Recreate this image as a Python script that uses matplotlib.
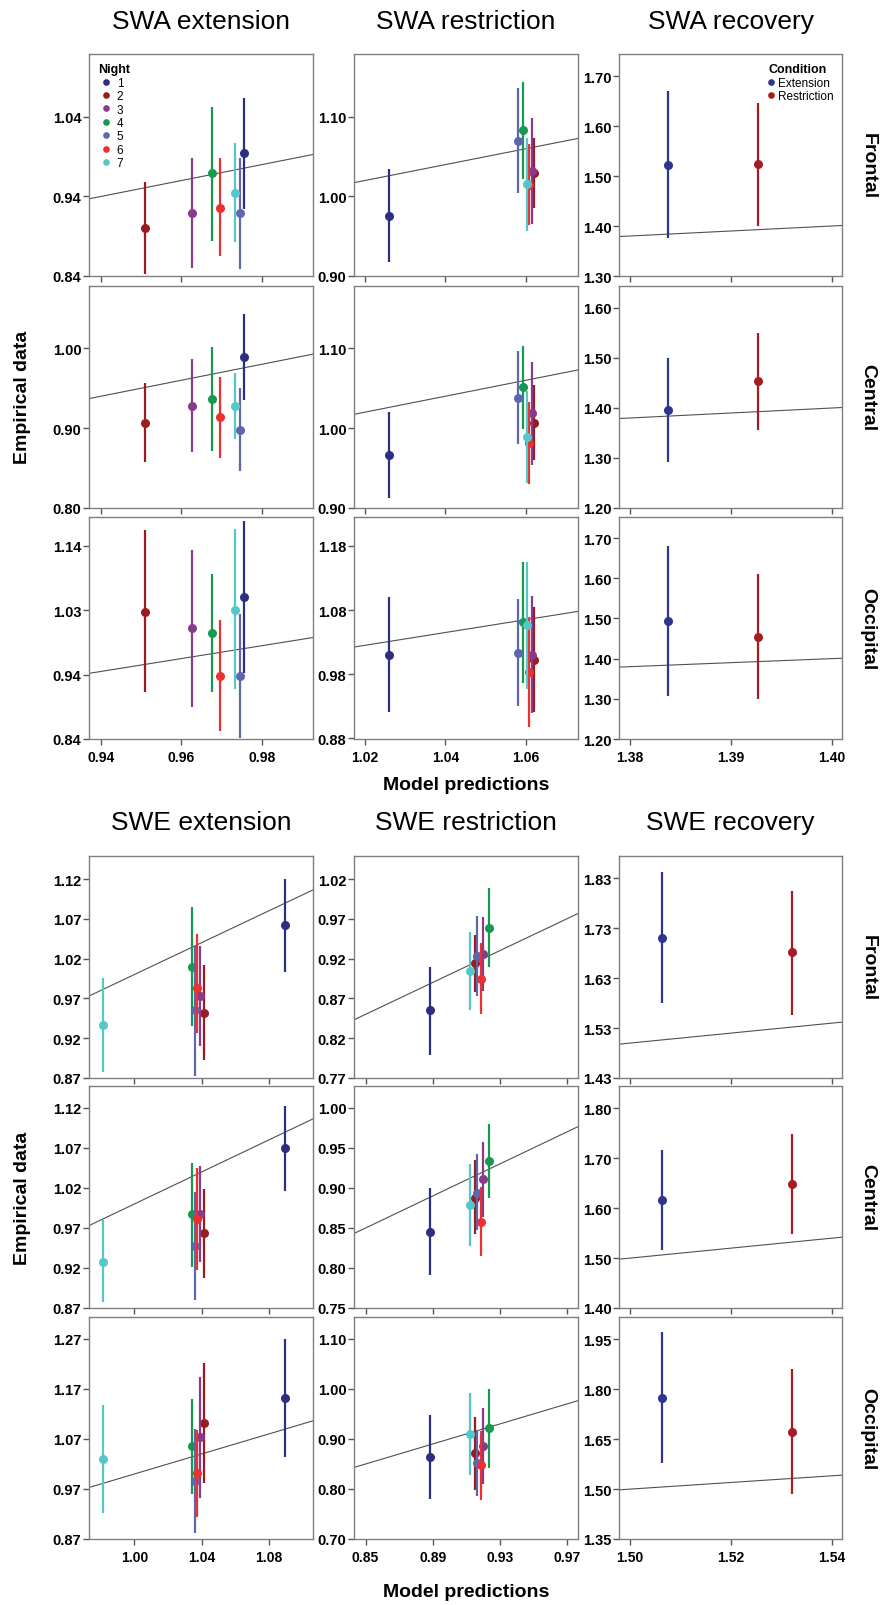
import matplotlib
matplotlib.use("Agg")
import matplotlib.pyplot as plt
from matplotlib.lines import Line2D

plt.rcParams['font.family'] = ['Liberation Sans', 'DejaVu Sans']

# ---------------- data ----------------
night_labels = ['1', '2', '3', '4', '5', '6', '7']
night_colors = ['#2b2f7f', '#9a1b20', '#8a3a8c', '#17994f', '#5f66b0', '#ee2f2f', '#56c7c8']
cond_labels = ['Extension', 'Restriction']
cond_colors = ['#2d3590', '#a61c22']

# model predictions (x), nights 1..7 / conditions
swa_ext_pred = [0.9756, 0.9510, 0.9626, 0.9675, 0.9745, 0.9696, 0.9733]
swa_res_pred = [1.0260, 1.0621, 1.0616, 1.0592, 1.0581, 1.0607, 1.0603]
swa_rec_pred = [1.3838, 1.3927]
swe_ext_pred = [1.0895, 1.0414, 1.0393, 1.0343, 1.0362, 1.0376, 0.9812]
swe_res_pred = [0.8883, 0.9152, 0.9203, 0.9234, 0.9167, 0.9188, 0.9121]
swe_rec_pred = [1.5063, 1.5320]

# empirical data: mean, lower CI, upper CI
swa_ext_frontal = ([0.994, 0.900, 0.919, 0.969, 0.919, 0.926, 0.944],
                   [0.924, 0.842, 0.850, 0.884, 0.849, 0.865, 0.883],
                   [1.064, 0.958, 0.988, 1.053, 0.988, 0.988, 1.007])
swa_ext_central = ([0.989, 0.907, 0.928, 0.937, 0.898, 0.914, 0.928],
                   [0.935, 0.857, 0.870, 0.871, 0.846, 0.863, 0.887],
                   [1.043, 0.956, 0.986, 1.002, 0.950, 0.964, 0.969])
swa_ext_occipital = ([1.056, 1.033, 1.007, 0.999, 0.933, 0.933, 1.036],
                     [0.938, 0.908, 0.884, 0.908, 0.837, 0.847, 0.913],
                     [1.174, 1.160, 1.129, 1.091, 1.029, 1.020, 1.161])

swa_res_frontal = ([0.976, 1.030, 1.032, 1.083, 1.070, 1.014, 1.015],
                   [0.917, 0.985, 0.965, 1.022, 1.004, 0.964, 0.957],
                   [1.034, 1.074, 1.098, 1.144, 1.136, 1.066, 1.073])
swa_res_central = ([0.966, 1.007, 1.019, 1.051, 1.038, 0.982, 0.989],
                   [0.912, 0.960, 0.954, 0.999, 0.980, 0.930, 0.931],
                   [1.020, 1.054, 1.083, 1.103, 1.096, 1.033, 1.047])
swa_res_occipital = ([1.005, 0.997, 1.005, 1.056, 1.008, 0.978, 1.052],
                     [0.916, 0.916, 0.915, 0.961, 0.925, 0.893, 0.952],
                     [1.096, 1.079, 1.097, 1.150, 1.092, 1.064, 1.150])

swa_rec_frontal = ([1.523, 1.524], [1.376, 1.401], [1.670, 1.647])
swa_rec_central = ([1.397, 1.454], [1.293, 1.357], [1.500, 1.551])
swa_rec_occipital = ([1.493, 1.455], [1.306, 1.299], [1.681, 1.611])

swe_ext_frontal = ([1.062, 0.952, 0.973, 1.010, 0.955, 0.983, 0.937],
                   [1.003, 0.893, 0.910, 0.935, 0.872, 0.927, 0.877],
                   [1.120, 1.012, 1.036, 1.085, 1.036, 1.051, 0.996])
swe_ext_central = ([1.070, 0.964, 0.988, 0.987, 0.947, 0.981, 0.928],
                   [1.016, 0.908, 0.927, 0.921, 0.880, 0.917, 0.877],
                   [1.123, 1.019, 1.048, 1.051, 1.015, 1.045, 0.980])
swe_ext_occipital = ([1.152, 1.103, 1.075, 1.057, 0.986, 1.002, 1.030],
                     [1.035, 0.983, 0.953, 0.961, 0.883, 0.915, 0.923],
                     [1.270, 1.223, 1.195, 1.151, 1.090, 1.089, 1.138])

swe_res_frontal = ([0.855, 0.914, 0.926, 0.959, 0.923, 0.895, 0.905],
                   [0.799, 0.878, 0.879, 0.910, 0.873, 0.850, 0.855],
                   [0.909, 0.950, 0.972, 1.009, 0.973, 0.940, 0.953])
swe_res_central = ([0.845, 0.888, 0.911, 0.934, 0.894, 0.858, 0.879],
                   [0.791, 0.842, 0.864, 0.887, 0.847, 0.815, 0.828],
                   [0.900, 0.935, 0.958, 0.980, 0.942, 0.901, 0.930])
swe_res_occipital = ([0.864, 0.872, 0.887, 0.923, 0.853, 0.848, 0.911],
                     [0.780, 0.798, 0.810, 0.843, 0.787, 0.779, 0.829],
                     [0.949, 0.945, 0.962, 1.001, 0.919, 0.917, 0.993])

swe_rec_frontal = ([1.710, 1.682], [1.580, 1.557], [1.842, 1.804])
swe_rec_central = ([1.616, 1.649], [1.517, 1.548], [1.716, 1.749])
swe_rec_occipital = ([1.775, 1.673], [1.579, 1.486], [1.972, 1.860])

# axis ticks
swa_xticks = [[0.94, 0.96, 0.98], [1.02, 1.04, 1.06], [1.38, 1.39, 1.40]]
swe_xticks = [[1.00, 1.04, 1.08], [0.85, 0.89, 0.93, 0.97], [1.50, 1.52, 1.54]]
swa_xlims = [(0.937, 0.9927), (1.0173, 1.0729), (1.3789, 1.4010)]
swe_xlims = [(0.9730, 1.1064), (0.8431, 0.9767), (1.4978, 1.5420)]

swa_yticks = [[[0.84, 0.94, 1.04], [0.90, 1.00, 1.10], [1.30, 1.40, 1.50, 1.60, 1.70]],
              [[0.80, 0.90, 1.00], [0.90, 1.00, 1.10], [1.20, 1.30, 1.40, 1.50, 1.60]],
              [[0.835, 0.935, 1.035, 1.135], [0.875, 0.975, 1.075, 1.175],
               [1.20, 1.30, 1.40, 1.50, 1.60, 1.70]]]
swa_ylabels_occ = [['0.84', '0.94', '1.03', '1.14'], ['0.88', '0.98', '1.08', '1.18']]
swa_ylims = [[(0.84, 1.119), (0.90, 1.179), (1.30, 1.744)],
             [(0.80, 1.078), (0.90, 1.178), (1.20, 1.644)],
             [(0.835, 1.180), (0.874, 1.220), (1.20, 1.7525)]]

swe_yticks = [[[0.87, 0.92, 0.97, 1.02, 1.07, 1.12], [0.77, 0.82, 0.87, 0.92, 0.97, 1.02],
               [1.43, 1.53, 1.63, 1.73, 1.83]],
              [[0.87, 0.92, 0.97, 1.02, 1.07, 1.12], [0.75, 0.80, 0.85, 0.90, 0.95, 1.00],
               [1.40, 1.50, 1.60, 1.70, 1.80]],
              [[0.87, 0.97, 1.07, 1.17, 1.27], [0.70, 0.80, 0.90, 1.00, 1.10],
               [1.35, 1.50, 1.65, 1.80, 1.95]]]
swe_ylims = [[(0.87, 1.149), (0.77, 1.049), (1.43, 1.875)],
             [(0.87, 1.1475), (0.75, 1.0275), (1.40, 1.845)],
             [(0.87, 1.314), (0.70, 1.144), (1.35, 2.0175)]]

regions = ['Frontal', 'Central', 'Occipital']

# ---------------- layout (pixels) ----------------
W, H = 880, 1606
COLS = [(89, 313), (354, 578), (619, 842)]
ROWS_SWA = [(55, 277), (287, 509), (518, 740)]
ROWS_SWE = [(857, 1079), (1087, 1309), (1318, 1540)]

fig = plt.figure(figsize=(W / 100, H / 100), dpi=100)


def fx(x):
    return x / W


def fy(y):
    return 1 - y / H


def make_ax(col, row):
    l, r = COLS[col]
    t, b = row
    return fig.add_axes([fx(l), fy(b), (r - l) / W, (b - t) / H])


def draw(ax, pred, data, colors, xlim, ylim, xt, yt, ylab, show_xlab):
    mean, lo, hi = data
    ax.plot(xlim, xlim, color='#505050', lw=0.8, zorder=1)
    for i in range(len(pred)):
        ax.plot([pred[i], pred[i]], [lo[i], hi[i]], color=colors[i], lw=1.6,
                solid_capstyle='butt', zorder=2 + i)
        ax.plot(pred[i], mean[i], 'o', color=colors[i], ms=6.5, mec='none', zorder=2.5 + i)
    ax.set_xlim(xlim)
    ax.set_ylim(ylim)
    ax.set_xticks(xt)
    ax.set_yticks(yt)
    if ylab is None:
        ylab = ['%.2f' % v for v in yt]
    ax.set_yticklabels(ylab, fontweight='bold', fontsize=10.5)
    if show_xlab:
        ax.set_xticklabels(['%.2f' % v for v in xt], fontweight='bold', fontsize=10)
    else:
        ax.set_xticklabels([])
    for s in ax.spines.values():
        s.set_color('#7f7f7f')
        s.set_linewidth(1.0)
    ax.tick_params(direction='out', length=4, width=1, color='#555555', pad=1.5)
    ax.tick_params(axis='x', pad=4)


panels = [
    (ROWS_SWA, [swa_ext_pred, swa_res_pred, swa_rec_pred],
     [[swa_ext_frontal, swa_res_frontal, swa_rec_frontal],
      [swa_ext_central, swa_res_central, swa_rec_central],
      [swa_ext_occipital, swa_res_occipital, swa_rec_occipital]],
     swa_xlims, swa_xticks, swa_ylims, swa_yticks),
    (ROWS_SWE, [swe_ext_pred, swe_res_pred, swe_rec_pred],
     [[swe_ext_frontal, swe_res_frontal, swe_rec_frontal],
      [swe_ext_central, swe_res_central, swe_rec_central],
      [swe_ext_occipital, swe_res_occipital, swe_rec_occipital]],
     swe_xlims, swe_xticks, swe_ylims, swe_yticks),
]

axes = {}
for h, (rows, preds, datas, xlims, xticks, ylims, yticks) in enumerate(panels):
    for r in range(3):
        for c in range(3):
            ax = make_ax(c, rows[r])
            colors = cond_colors if c == 2 else night_colors
            ylab = None
            if h == 0 and r == 2 and c < 2:
                ylab = swa_ylabels_occ[c]
            draw(ax, preds[c], datas[r][c], colors, xlims[c], ylims[r][c],
                 xticks[c], yticks[r][c], ylab, r == 2)
            axes[(h, r, c)] = ax

# legends
night_handles = [Line2D([], [], marker='o', ls='none', color=c, ms=4.8, mec='none')
                 for c in night_colors]
axes[(0, 0, 0)].legend(night_handles, night_labels, title='Night', loc='upper left',
                       bbox_to_anchor=(0.005, 0.995), frameon=False, fontsize=8.5,
                       title_fontproperties={'weight': 'bold', 'size': 9},
                       handlelength=1.3, handletextpad=0.25, labelspacing=0.12,
                       borderpad=0.2, alignment='left')

cond_handles = [Line2D([], [], marker='o', ls='none', color=c, ms=4.8, mec='none')
                for c in cond_colors]
axes[(0, 0, 2)].legend(cond_handles, cond_labels, title='Condition', loc='upper right',
                       bbox_to_anchor=(1.0, 0.995), frameon=False, fontsize=8.5,
                       title_fontproperties={'weight': 'bold', 'size': 9},
                       handlelength=0.5, handletextpad=0.35, labelspacing=0.12,
                       borderpad=0.2, alignment='left')

# titles and labels
col_titles = [['SWA extension', 'SWA restriction', 'SWA recovery'],
              ['SWE extension', 'SWE restriction', 'SWE recovery']]
title_y = [22, 823]
for h in range(2):
    for c in range(3):
        l, r = COLS[c]
        fig.text(fx((l + r) / 2), fy(title_y[h]), col_titles[h][c], ha='center', va='center',
                 fontsize=19)

for rows in (ROWS_SWA, ROWS_SWE):
    for r in range(3):
        t, b = rows[r]
        fig.text(fx(868), fy((t + b) / 2), regions[r], rotation=270, ha='center', va='center',
                 fontsize=14, fontweight='bold')
    fig.text(fx(23), fy((rows[0][0] + rows[2][1]) / 2), 'Empirical data', rotation=90,
             ha='center', va='center', fontsize=14, fontweight='bold')

mid = (COLS[1][0] + COLS[1][1]) / 2
fig.text(fx(mid), fy(786), 'Model predictions', ha='center', va='center',
         fontsize=14, fontweight='bold')
fig.text(fx(mid), fy(1593), 'Model predictions', ha='center', va='center',
         fontsize=14, fontweight='bold')

fig.savefig('out.png', dpi=100)
